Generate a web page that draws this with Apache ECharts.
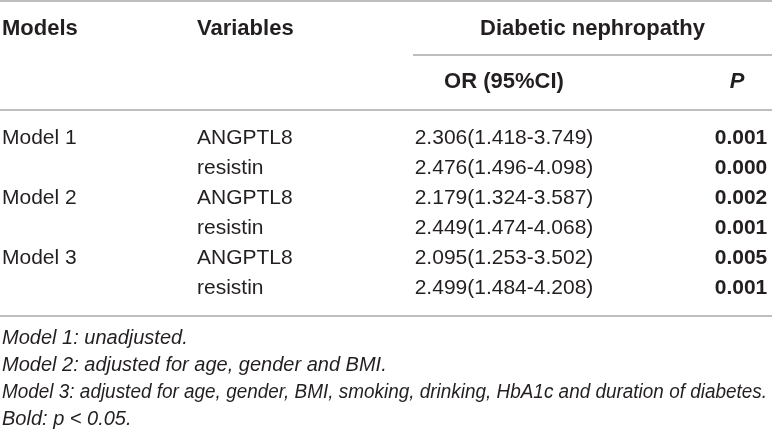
<!DOCTYPE html>
<html>
<head>
<meta charset="utf-8">
<script src="https://cdn.jsdelivr.net/npm/echarts@6/dist/echarts.min.js"></script>
<style>
  html, body { margin: 0; padding: 0; background: #fff; }
  #chart { width: 772px; height: 433px; }
</style>
</head>
<body>
<div id="chart"></div>
<script>
// table content
const models = ['Model 1', 'Model 2', 'Model 3']
const variables = ['ANGPTL8', 'resistin']
const orValues = [2.306, 2.476, 2.179, 2.449, 2.095, 2.499]
const ciLower = [1.418, 1.496, 1.324, 1.474, 1.253, 1.484]
const ciUpper = [3.749, 4.098, 3.587, 4.068, 3.502, 4.208]
const pValues = [0.001, 0.000, 0.002, 0.001, 0.005, 0.001]
const headers = ['Models', 'Variables', 'Diabetic nephropathy', 'OR (95%CI)', 'P']
const footnotes = [
	'Model 1: unadjusted.',
	'Model 2: adjusted for age, gender and BMI.',
	'Model 3: adjusted for age, gender, BMI, smoking, drinking, HbA1c and duration of diabetes.',
	'Bold: p < 0.05.'
]
const alpha = 0.05

// layout (pixel units of the hidden axes)
const W = 772, H = 433
const colModel = 2, colVar = 197, colOr = 504, colP = 741, subLineStart = 413
const headY1 = 29, headY2 = 82, midLineY = 55, headLineY = 110
const rowY0 = 138, rowH = 30, bottomLineY = 316
const noteY0 = 338, noteH = 27, noteMaxW = 765
const font = 'Liberation Sans'
const headSize = 22, bodySize = 21, noteSize = 20
const ink = '#231f20'
const rule = '#a9a9a9'

// long footnote is set tighter in the source, squeeze it horizontally to fit
let measure = document.createElement('canvas').getContext('2d')
function squeeze(text) {
	measure.font = 'italic ' + noteSize + 'px "' + font + '"'
	let w = measure.measureText(text).width
	return w > noteMaxW ? noteMaxW / w : 1
}

function cell(x, y, text, align, weight, style, size) {
	return {
		value: [x, y],
		label: {
			formatter: text, align: align,
			fontWeight: weight || 'normal', fontStyle: style || 'normal',
			fontSize: size || bodySize
		}
	}
}

let cells = []
cells.push(cell(colModel, headY1, headers[0], 'left', 'bold', null, headSize))
cells.push(cell(colVar, headY1, headers[1], 'left', 'bold', null, headSize))
cells.push(cell((subLineStart + W) / 2, headY1, headers[2], 'center', 'bold', null, headSize))
cells.push(cell(colOr, headY2, headers[3], 'center', 'bold', null, headSize))
cells.push(cell(colP - 4, headY2, headers[4], 'center', 'bold', 'italic', headSize))

orValues.forEach((v, i) => {
	let y = rowY0 + i * rowH
	if (i % variables.length === 0) {
		cells.push(cell(colModel, y, models[i / variables.length], 'left'))
	}
	cells.push(cell(colVar, y, variables[i % variables.length], 'left'))
	let txt = v.toFixed(3) + '(' + ciLower[i].toFixed(3) + '-' + ciUpper[i].toFixed(3) + ')'
	cells.push(cell(colOr, y, txt, 'center'))
	cells.push(cell(colP, y, pValues[i].toFixed(3), 'center', pValues[i] < alpha ? 'bold' : 'normal'))
})

let notes = footnotes.map((t, i) => ({
	type: 'text',
	x: colModel,
	y: noteY0 + i * noteH,
	scaleX: squeeze(t),
	silent: true,
	style: {
		text: t,
		fill: ink,
		fontFamily: font,
		fontSize: noteSize,
		fontStyle: 'italic',
		align: 'left',
		verticalAlign: 'middle'
	}
}))

let rules = [
	[{ coord: [0, 1] }, { coord: [W, 1] }],
	[{ coord: [subLineStart, midLineY] }, { coord: [W, midLineY] }],
	[{ coord: [0, headLineY] }, { coord: [W, headLineY] }],
	[{ coord: [0, bottomLineY] }, { coord: [W, bottomLineY] }]
]

let myChart = echarts.init(document.getElementById('chart'))
let option = {
	animation: false,
	grid: { left: 0, right: 0, top: 0, bottom: 0 },
	xAxis: { type: 'value', min: 0, max: W, show: false },
	yAxis: { type: 'value', min: 0, max: H, inverse: true, show: false },
	graphic: notes,
	series: [{
		type: 'scatter',
		symbolSize: 1,
		itemStyle: { color: 'rgba(0,0,0,0)' },
		silent: true,
		label: {
			show: true,
			position: 'inside',
			verticalAlign: 'middle',
			color: ink,
			textBorderWidth: 0,
			opacity: 1,
			fontFamily: font
		},
		data: cells,
		markLine: {
			silent: true,
			symbol: 'none',
			label: { show: false },
			lineStyle: { color: rule, width: 1.5, type: 'solid' },
			data: rules
		}
	}]
}
myChart.setOption(option)
</script>
</body>
</html>
